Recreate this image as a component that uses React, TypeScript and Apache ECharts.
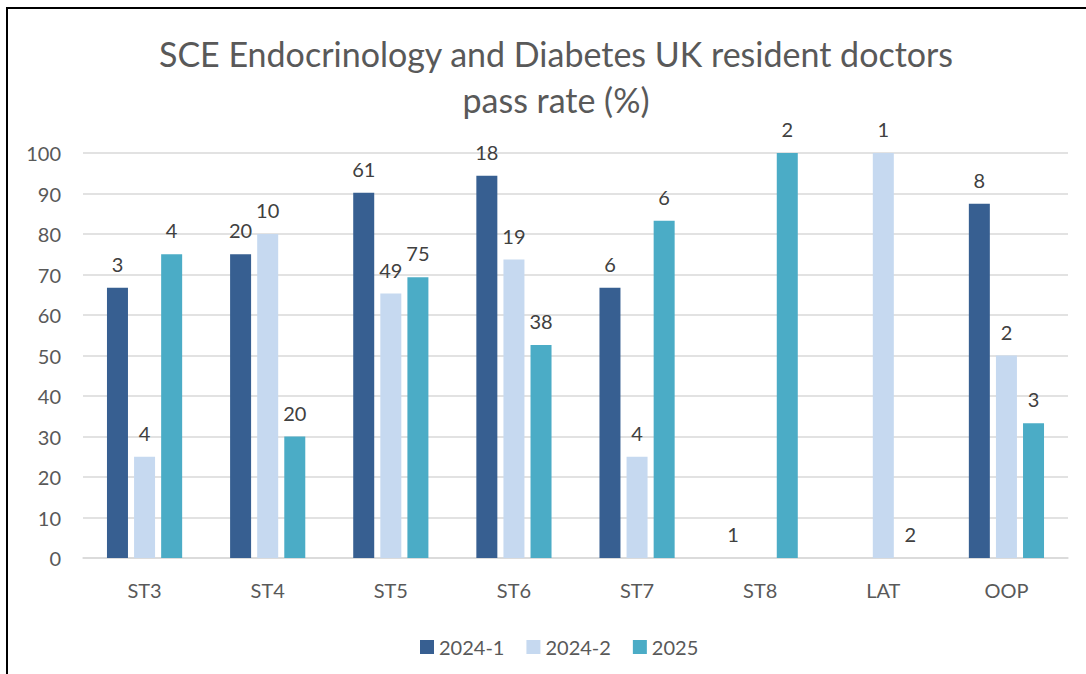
import React, { useEffect, useRef } from "react";
import * as echarts from "echarts";

const categories = ["ST3", "ST4", "ST5", "ST6", "ST7", "ST8", "LAT", "OOP"];
const seriesNames = ["2024-1", "2024-2", "2025"];
const passRate2024_1: (number | null)[] = [66.7, 75, 90.2, 94.4, 66.7, 0, null, 87.5];
const passRate2024_2: (number | null)[] = [25, 80, 65.3, 73.7, 25, null, 100, 50];
const passRate2025: (number | null)[] = [75, 30, 69.3, 52.6, 83.3, 100, 0, 33.3];
const count2024_1: (number | null)[] = [3, 20, 61, 18, 6, 1, null, 8];
const count2024_2: (number | null)[] = [4, 10, 49, 19, 4, null, 1, 2];
const count2025: (number | null)[] = [4, 20, 75, 38, 6, 2, 2, 3];
const colors = ["#375F91", "#C6D9F0", "#4BACC6"];
const yTicks = { min: 0, max: 100, interval: 10 };

const FONT = "Lato";

export default function App() {
  const ref = useRef<HTMLDivElement>(null);
  useEffect(() => {
    if (!ref.current) return;
    const chart = echarts.init(ref.current, null, { renderer: "svg" });
    const values = [passRate2024_1, passRate2024_2, passRate2025];
    const counts = [count2024_1, count2024_2, count2025];
    chart.setOption({
      animation: false,
      backgroundColor: "#ffffff",
      textStyle: { fontFamily: FONT },
      title: {
        text: "SCE Endocrinology and Diabetes UK resident doctors\npass rate (%)",
        left: 551,
        top: 25,
        textAlign: "center",
        textStyle: {
          fontFamily: FONT,
          fontSize: 34,
          fontWeight: "normal",
          color: "#595959",
          lineHeight: 46,
        },
      },
      legend: {
        data: seriesNames,
        left: 415,
        top: 632,
        icon: "rect",
        itemWidth: 14,
        itemHeight: 14,
        itemGap: 22,
        textStyle: { fontFamily: FONT, fontSize: 20, color: "#595959", padding: [0, 0, 0, 0] },
      },
      grid: { left: 83, right: 18, top: 153, bottom: 116, containLabel: false },
      xAxis: {
        type: "category",
        data: categories,
        axisLine: { show: true, lineStyle: { color: "#D9D9D9", width: 1.5 } },
        axisTick: { show: false },
        axisLabel: { fontFamily: FONT, fontSize: 20, color: "#595959", margin: 22 },
      },
      yAxis: {
        type: "value",
        min: yTicks.min,
        max: yTicks.max,
        interval: yTicks.interval,
        axisLine: { show: false },
        axisTick: { show: false },
        axisLabel: { fontFamily: FONT, fontSize: 20, color: "#595959", margin: 22 },
        splitLine: { lineStyle: { color: "#D9D9D9", width: 1.5 } },
      },
      graphic: [
        {
          type: "rect",
          shape: { x: 7, y: 8, width: 1200, height: 800 },
          style: { fill: "none", stroke: "#000000", lineWidth: 2 },
          silent: true,
          z: 100,
        },
      ],
      series: seriesNames.map((name, si) => ({
        name,
        type: "bar",
        data: values[si],
        barWidth: 21,
        barGap: "29%",
        barCategoryGap: "39%",
        itemStyle: { color: colors[si] },
        label: {
          show: true,
          position: "top",
          distance: 14,
          fontFamily: FONT,
          fontSize: 20,
          color: "#404040",
          formatter: (p: any) => {
            const c = counts[si][p.dataIndex];
            return c == null ? "" : String(c);
          },
        },
      })),
    });
    return () => chart.dispose();
  }, []);
  return (
    <div
      ref={ref}
      style={{ position: "fixed", left: 0, top: 0, width: 1086, height: 674 }}
    />
  );
}
